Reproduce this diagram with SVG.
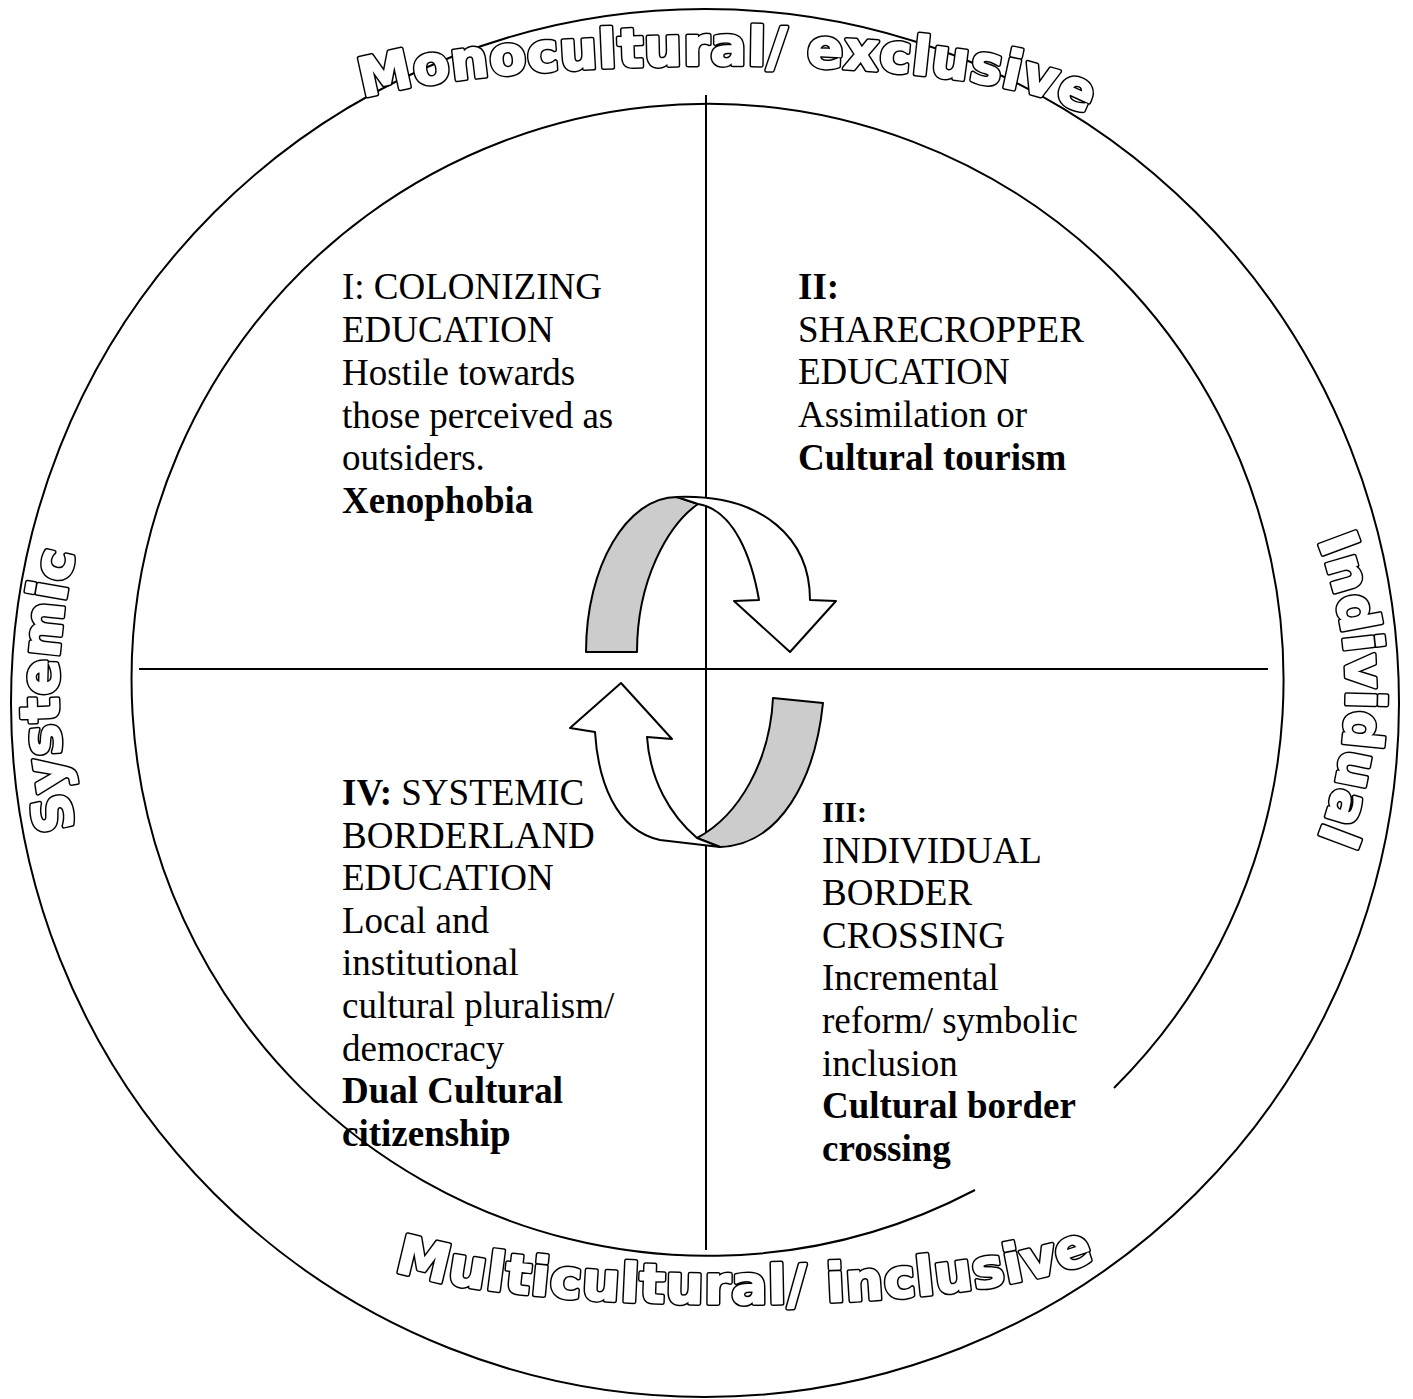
<svg xmlns="http://www.w3.org/2000/svg" width="1413" height="1399" viewBox="0 0 1413 1399">
<defs>
<style>
.ln{fill:none;stroke:#000;stroke-width:2}
.t{font-family:"Liberation Serif","Times New Roman",serif;font-size:37px;fill:#000}
.b{font-weight:bold}
.arc{font-family:"DejaVu Sans",sans-serif;font-weight:bold;font-size:53px;letter-spacing:1px;stroke-linejoin:round}
.ao{fill:#000;stroke:#000;stroke-width:5}
.ai{fill:#fff;stroke:#fff;stroke-width:2}
.gray{fill:#cccccc;stroke:#000;stroke-width:2;stroke-linejoin:round}
.wht{fill:#fff;stroke:#000;stroke-width:2;stroke-linejoin:round}
</style>
<path id="pTop" d="M 366,97 C 515,55 975,48 1084,114"/>
<path id="pBot" d="M 400,1272 C 520,1310 930,1322 1090,1262"/>
<path id="pLeft" d="M 82,852 A 560 560 0 0 1 82,528"/>
<path id="pRight" d="M 1310,523 A 400 400 0 0 1 1310,857"/>
<text id="tTop" class="arc"><textPath href="#pTop" startOffset="50%" text-anchor="middle">Monocultural/ exclusive</textPath></text>
<text id="tBot" class="arc"><textPath href="#pBot" startOffset="50%" text-anchor="middle">Multicultural/ inclusive</textPath></text>
<text id="tLeft" class="arc"><textPath href="#pLeft" startOffset="50%" text-anchor="middle">Systemic</textPath></text>
<text id="tRight" class="arc"><textPath href="#pRight" startOffset="50%" text-anchor="middle">Individual</textPath></text>
</defs>
<rect width="1413" height="1399" fill="#fff"/>
<g id="frame">
<circle class="ln" cx="705" cy="703" r="694"/>
<path class="ln" d="M 975,1190 A 576 576 0 1 1 1114,1088"/>
<line class="ln" x1="139" y1="669" x2="1268" y2="669"/>
<line class="ln" x1="706" y1="95" x2="706" y2="1250"/>
</g>
<g id="axis-labels">
<use href="#tTop" class="ao"/><use href="#tTop" class="ai"/>
<use href="#tBot" class="ao"/><use href="#tBot" class="ai"/>
<use href="#tLeft" class="ao"/><use href="#tLeft" class="ai"/>
<use href="#tRight" class="ao"/><use href="#tRight" class="ai"/>
</g>
<g id="q1">
<text class="t" x="342" y="299">I: COLONIZING</text>
<text class="t" x="342" y="342">EDUCATION</text>
<text class="t" x="342" y="385">Hostile towards</text>
<text class="t" x="342" y="428">those perceived as</text>
<text class="t" x="342" y="470">outsiders.</text>
<text class="t b" x="342" y="513">Xenophobia</text>
</g>
<g id="q2">
<text class="t b" x="798" y="299">II:</text>
<text class="t" x="798" y="342">SHARECROPPER</text>
<text class="t" x="798" y="384">EDUCATION</text>
<text class="t" x="798" y="427">Assimilation or</text>
<text class="t b" x="798" y="470">Cultural tourism</text>
</g>
<g id="q3">
<text class="t b" x="822" y="822" style="font-size:30px">III:</text>
<text class="t" x="822" y="863">INDIVIDUAL</text>
<text class="t" x="822" y="905">BORDER</text>
<text class="t" x="822" y="948">CROSSING</text>
<text class="t" x="822" y="990">Incremental</text>
<text class="t" x="822" y="1033">reform/ symbolic</text>
<text class="t" x="822" y="1076">inclusion</text>
<text class="t b" x="822" y="1118">Cultural border</text>
<text class="t b" x="822" y="1161">crossing</text>
</g>
<g id="q4">
<text class="t" x="342" y="805"><tspan class="b">IV:</tspan> SYSTEMIC</text>
<text class="t" x="342" y="848">BORDERLAND</text>
<text class="t" x="342" y="890">EDUCATION</text>
<text class="t" x="342" y="933">Local and</text>
<text class="t" x="342" y="975">institutional</text>
<text class="t" x="342" y="1018">cultural pluralism/</text>
<text class="t" x="342" y="1061">democracy</text>
<text class="t b" x="342" y="1103">Dual Cultural</text>
<text class="t b" x="342" y="1146">citizenship</text>
</g>
<g id="connectors">
<g id="arrow-top">
<path class="gray" d="M 586,652 C 586,566 627,497 677,497 L 698,504 C 668,525 637,580 637,652 Z"/>
<path class="wht" d="M 677,497 C 765,494 810,540 810,600 L 836,601 L 790,652 L 734,601 L 759,600 C 752,560 735,510 698,504 Z"/>
</g>
<g id="arrow-bottom">
<path class="gray" d="M 773,698 L 823,703 C 815,780 780,845 720,847 L 697,838 C 740,815 770,760 773,698 Z"/>
<path class="wht" d="M 697,838 C 670,815 650,780 647,737 L 672,739 L 621,683 L 570,728 L 595,732 C 598,780 615,830 660,840 L 720,847 Z"/>
</g>
</g>
</svg>
